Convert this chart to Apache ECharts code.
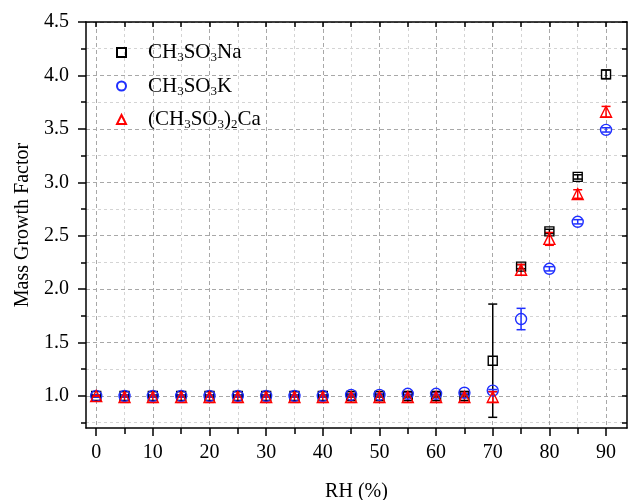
<!DOCTYPE html>
<html>
<head>
<meta charset="utf-8">
<script src="https://cdn.jsdelivr.net/npm/echarts@6/dist/echarts.min.js"></script>
<style>
	html, body { margin: 0; padding: 0; background: #fff; }
	#chart { width: 628px; height: 500px; }
</style>
</head>
<body>
<div id="chart"></div>
<script>
// RH (%) points
var rh = [0, 5, 10, 15, 20, 25, 30, 35, 40, 45, 50, 55, 60, 65, 70, 75, 80, 85, 90];
// mass growth factor + error (half width)
var naMgf = [1.00, 1.00, 1.00, 1.00, 1.00, 1.00, 1.00, 1.00, 1.00, 1.00, 1.00, 1.00, 1.00, 1.00, 1.33, 2.21, 2.54, 3.05, 4.01];
var naErr = [0.01, 0.01, 0.01, 0.01, 0.01, 0.01, 0.01, 0.01, 0.01, 0.01, 0.01, 0.01, 0.01, 0.01, 0.53, 0.02, 0.02, 0.02, 0.04];
var kMgf = [1.00, 1.00, 1.00, 1.00, 1.00, 1.00, 1.00, 1.00, 1.00, 1.01, 1.01, 1.02, 1.02, 1.03, 1.05, 1.72, 2.19, 2.63, 3.49];
var kErr = [0.01, 0.01, 0.01, 0.01, 0.01, 0.01, 0.01, 0.01, 0.01, 0.01, 0.01, 0.01, 0.01, 0.01, 0.01, 0.10, 0.02, 0.02, 0.02];
var caMgf = [1.00, 0.99, 0.99, 0.99, 0.99, 0.99, 0.99, 0.99, 0.99, 0.99, 0.99, 0.99, 0.99, 0.99, 0.99, 2.18, 2.47, 2.89, 3.66];
var caErr = [0.00, 0.05, 0.05, 0.05, 0.05, 0.05, 0.05, 0.05, 0.05, 0.05, 0.05, 0.05, 0.05, 0.05, 0.05, 0.05, 0.06, 0.04, 0.05];
// ticks
var xMajor = [0, 10, 20, 30, 40, 50, 60, 70, 80, 90];
var xMinor = [5, 15, 25, 35, 45, 55, 65, 75, 85];
var xAll = [0, 5, 10, 15, 20, 25, 30, 35, 40, 45, 50, 55, 60, 65, 70, 75, 80, 85, 90];
var yMajor = [1.0, 1.5, 2.0, 2.5, 3.0, 3.5, 4.0, 4.5];
var yMinor = [0.75, 1.25, 1.75, 2.25, 2.75, 3.25, 3.75, 4.25];
var yAll = [0.75, 1.0, 1.25, 1.5, 1.75, 2.0, 2.25, 2.5, 2.75, 3.0, 3.25, 3.5, 3.75, 4.0, 4.25, 4.5];

var FONT = "'Liberation Serif', 'Times New Roman', serif";
var XMIN = -1.8, XMAX = 93.7, YMIN = 0.7, YMAX = 4.5;

function pts(ys) {
	var out = [];
	for(var i = 0; i < rh.length; i++) {
		out.push([rh[i], ys[i]]);
	}
	return out;
}

function errPts(ys, es) {
	var out = [];
	for(var i = 0; i < rh.length; i++) {
		out.push([rh[i], ys[i] - es[i], ys[i] + es[i]]);
	}
	return out;
}

// error bar with caps
function errSeries(name, ys, es, color) {
	return {
		name: name,
		type: 'custom',
		xAxisIndex: 0,
		yAxisIndex: 0,
		z: 3,
		silent: true,
		renderItem: function(params, api) {
			var x = api.value(0);
			var lo = api.coord([x, api.value(1)]);
			var hi = api.coord([x, api.value(2)]);
			var cap = 4.5;
			var st = { stroke: color, lineWidth: 1.5 };
			return {
				type: 'group',
				children: [
					{ type: 'line', shape: { x1: lo[0], y1: lo[1], x2: hi[0], y2: hi[1] }, style: st },
					{ type: 'line', shape: { x1: lo[0] - cap, y1: lo[1], x2: lo[0] + cap, y2: lo[1] }, style: st },
					{ type: 'line', shape: { x1: hi[0] - cap, y1: hi[1], x2: hi[0] + cap, y2: hi[1] }, style: st }
				]
			};
		},
		data: errPts(ys, es)
	};
}

function markSeries(name, ys, symbol, size, color) {
	return {
		name: name,
		type: 'scatter',
		xAxisIndex: 0,
		yAxisIndex: 0,
		z: 4,
		symbol: symbol,
		symbolSize: size,
		itemStyle: { color: 'rgba(255,255,255,0)', borderColor: color, borderWidth: 1.4, opacity: 1 },
		data: pts(ys)
	};
}

var legendRich = {
	g: { width: 17 },
	n: { fontSize: 21, fontFamily: FONT, color: '#000', lineHeight: 24 },
	s: { fontSize: 13, fontFamily: FONT, color: '#000', lineHeight: 12, verticalAlign: 'bottom' }
};
var legendText = {
	'CH3SO3Na': '{g|}{n|CH}{s|3}{n|SO}{s|3}{n|Na}',
	'CH3SO3K': '{g|}{n|CH}{s|3}{n|SO}{s|3}{n|K}',
	'(CH3SO3)2Ca': '{g|}{n|(CH}{s|3}{n|SO}{s|3}{n|)}{s|2}{n|Ca}'
};

var axisLineStyle = { color: '#000', width: 1.5 };

var myChart = echarts.init(document.getElementById('chart'));
var option = {
	backgroundColor: '#fff',
	animation: false,
	grid: { left: 86, right: 1, top: 22, bottom: 72, outerBoundsMode: 'none' },
	legend: {
		orient: 'vertical',
		left: 111,
		top: 37,
		itemWidth: 9,
		itemHeight: 9,
		itemGap: 11,
		data: ['CH3SO3Na', 'CH3SO3K', '(CH3SO3)2Ca'],
		formatter: function(name) { return legendText[name]; },
		textStyle: { rich: legendRich }
	},
	xAxis: [{
		type: 'value', position: 'bottom', min: XMIN, max: XMAX,
		name: 'RH (%)', nameLocation: 'middle', nameGap: 54,
		nameTextStyle: { fontSize: 20, fontFamily: FONT, color: '#000' },
		axisLine: { onZero: false, lineStyle: axisLineStyle },
		axisTick: { customValues: xMajor, length: 8, lineStyle: axisLineStyle },
		axisLabel: { customValues: xMajor, fontSize: 20, fontFamily: FONT, color: '#000', margin: 15 },
		splitLine: { show: true, lineStyle: { color: '#a8a8a8', type: [4, 3], width: 1 } }
	}, {
		type: 'value', position: 'bottom', min: XMIN, max: XMAX,
		axisLine: { show: false, onZero: false },
		axisTick: { customValues: xMinor, length: 6, lineStyle: axisLineStyle },
		axisLabel: { show: false },
		splitLine: { show: true, lineStyle: { color: '#d4d4d4', type: [3, 3], width: 1 } }
	}, {
		type: 'value', position: 'top', min: XMIN, max: XMAX,
		axisLine: { onZero: false, lineStyle: axisLineStyle },
		axisTick: { customValues: xAll, inside: true, length: 5, lineStyle: axisLineStyle },
		axisLabel: { show: false },
		splitLine: { show: false }
	}],
	yAxis: [{
		type: 'value', position: 'left', min: YMIN, max: YMAX,
		name: 'Mass Growth Factor', nameLocation: 'middle', nameGap: 53,
		nameTextStyle: { fontSize: 20, fontFamily: FONT, color: '#000' },
		axisLine: { onZero: false, lineStyle: axisLineStyle },
		axisTick: { customValues: yMajor, length: 8, lineStyle: axisLineStyle },
		axisLabel: {
			customValues: yMajor, fontSize: 20, fontFamily: FONT, color: '#000', margin: 17,
			formatter: function(v) { return v.toFixed(1); }
		},
		splitLine: { show: true, lineStyle: { color: '#a8a8a8', type: [4, 3], width: 1 } }
	}, {
		type: 'value', position: 'left', min: YMIN, max: YMAX,
		axisLine: { show: false, onZero: false },
		axisTick: { customValues: yMinor, length: 5, lineStyle: axisLineStyle },
		axisLabel: { show: false },
		splitLine: { show: true, lineStyle: { color: '#d4d4d4', type: [3, 3], width: 1 } }
	}, {
		type: 'value', position: 'right', min: YMIN, max: YMAX,
		axisLine: { onZero: false, lineStyle: axisLineStyle },
		axisTick: { customValues: yAll, inside: true, length: 5, lineStyle: axisLineStyle },
		axisLabel: { show: false },
		splitLine: { show: false }
	}],
	series: [
		errSeries('naErr', naMgf, naErr, '#000'),
		errSeries('kErr', kMgf, kErr, '#1f2fff'),
		errSeries('caErr', caMgf, caErr, '#ff0000'),
		markSeries('CH3SO3Na', naMgf, 'rect', 9, '#000'),
		markSeries('CH3SO3K', kMgf, 'circle', 11, '#1f2fff'),
		markSeries('(CH3SO3)2Ca', caMgf, 'triangle', 11, '#ff0000')
	]
};
myChart.setOption(option);
</script>
</body>
</html>
